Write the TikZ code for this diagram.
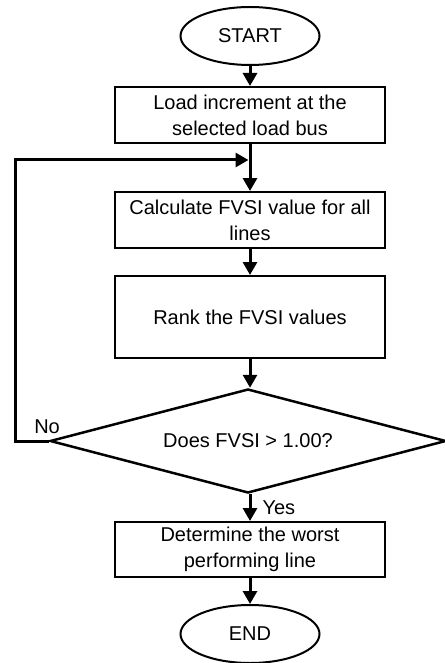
\documentclass[tikz,border=0pt]{standalone}
\usepackage{fontspec}
\setmainfont{Liberation Sans}
\usepackage{tikz}
\usetikzlibrary{positioning,calc,arrows.meta,shapes.geometric}

\begin{document}
\begin{tikzpicture}[
      x=1pt, y=-1pt,
      font=\fontsize{20}{26}\selectfont,
      term/.style={ellipse, draw=black, line width=2pt, minimum width=139pt,
        minimum height=58pt, inner sep=0pt},
      proc/.style={rectangle, draw=black, line width=2pt, minimum width=270pt,
        minimum height=56pt, align=center, inner sep=2pt},
      decision/.style={diamond, draw=black, line width=2.5pt, aspect=3.8,
        minimum width=396pt, minimum height=104pt, inner sep=0pt},
      flow/.style={-{Triangle[length=13pt,width=14pt]}, line width=3pt},
      lbl/.style={inner sep=1pt}
    ]
    \useasboundingbox (0,0) rectangle (444,663);
    % ---------------- main column ----------------
    \node[term] (start) at (250,36) {START};
    \node[proc] (load) at (250,115) {Load increment at the\\selected load bus};
    \node[proc] (calcfvsi) at (250,220) {Calculate FVSI value for all\\lines};
    \node[proc, minimum height=82pt] (rank) at (250,317) {Rank the FVSI values};
    \node[decision] (check) at (248,441) {Does FVSI > 1.00?};
    \node[proc, minimum height=55pt] (worst) at (250,549.5) {Determine the worst\\performing line};
    \node[term] (stop) at (250,634) {END};
    % ---------------- connectors ----------------
    \coordinate (merge) at (248.5,160);
    \coordinate (loopcorner) at (15,441);
    \draw[flow] (start) -- (load);
    \draw[flow] (load) -- (calcfvsi);
    \draw[flow] (calcfvsi) -- (rank.north);
    \draw[flow] (rank.south) -- (rank.south |- check.north);
    \draw[flow] (worst.north |- check.south) -- (worst.north)
      node[midway, right=10pt, lbl] (yes) {Yes};
    \draw[flow] (worst) -- (stop);
    % ---------------- feedback loop ----------------
    \draw[flow] (check.west) -- (loopcorner)
      node[pos=0.05, above=5pt, lbl] (no) {No} |- (merge);
  \end{tikzpicture}
\end{document}
